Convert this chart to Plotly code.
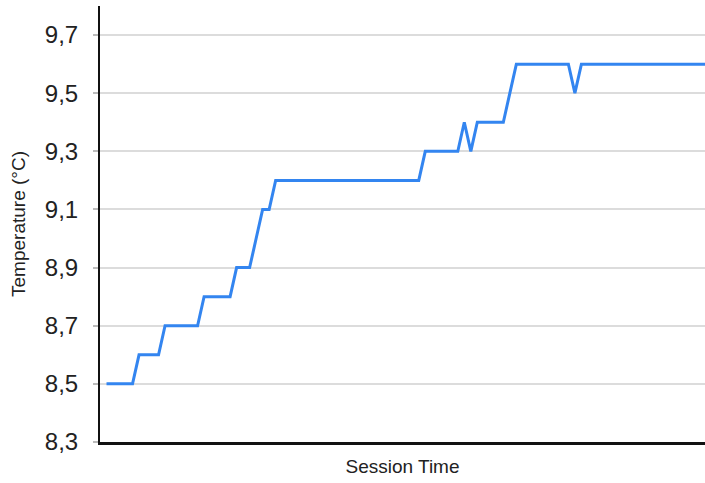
import plotly.graph_objects as go

# temperature readings over the session, one per sample
temperature = [
    8.5, 8.5, 8.5, 8.5, 8.5,
    8.6, 8.6, 8.6, 8.6,
    8.7, 8.7, 8.7, 8.7, 8.7, 8.7,
    8.8, 8.8, 8.8, 8.8, 8.8,
    8.9, 8.9, 8.9,
    9.0,
    9.1, 9.1,
    9.2, 9.2, 9.2, 9.2, 9.2, 9.2, 9.2, 9.2, 9.2, 9.2, 9.2, 9.2,
    9.2, 9.2, 9.2, 9.2, 9.2, 9.2, 9.2, 9.2, 9.2, 9.2, 9.2,
    9.3, 9.3, 9.3, 9.3, 9.3, 9.3,
    9.4,
    9.3,
    9.4, 9.4, 9.4, 9.4, 9.4,
    9.5,
    9.6, 9.6, 9.6, 9.6, 9.6, 9.6, 9.6, 9.6, 9.6,
    9.5,
    9.6, 9.6, 9.6, 9.6, 9.6, 9.6, 9.6, 9.6, 9.6, 9.6,
    9.6, 9.6, 9.6, 9.6, 9.6, 9.6, 9.6, 9.6, 9.6, 9.6,
]
session_time = list(range(len(temperature)))

y_ticks = [8.3, 8.5, 8.7, 8.9, 9.1, 9.3, 9.5, 9.7]

FONT = "Liberation Sans, Arial, Helvetica, sans-serif"

fig = go.Figure(
    go.Scatter(
        x=session_time,
        y=temperature,
        mode="lines",
        line=dict(color="#3385f0", width=3),
        hoverinfo="skip",
    )
)

fig.update_layout(
    width=705,
    height=483,
    paper_bgcolor="white",
    plot_bgcolor="white",
    separators=",.",
    showlegend=False,
    font=dict(family=FONT, color="#222222"),
    margin=dict(l=100, r=0, t=6, b=41, pad=0),
    xaxis=dict(
        range=[-1, 92],
        showticklabels=False,
        ticks="",
        showgrid=False,
        zeroline=False,
        showline=True,
        linecolor="#111111",
        linewidth=2.5,
        title=dict(text="Session Time", font=dict(size=19, color="#222222"), standoff=16),
    ),
    yaxis=dict(
        range=[8.3, 9.8],
        tickvals=y_ticks,
        tickformat=".1f",
        ticks="outside",
        ticklen=5,
        tickcolor="#bbbbbb",
        tickwidth=1.5,
        ticklabelstandoff=10,
        tickfont=dict(size=24, color="#222222"),
        showgrid=True,
        gridcolor="#dcdcdc",
        gridwidth=2,
        zeroline=False,
        showline=True,
        linecolor="#111111",
        linewidth=2,
        title=dict(text="Temperature (°C)", font=dict(size=19, color="#222222"), standoff=14),
    ),
)

fig.write_html(
    "out.html",
    config={"displayModeBar": False},
    post_script="document.body.style.margin='0';",
)
